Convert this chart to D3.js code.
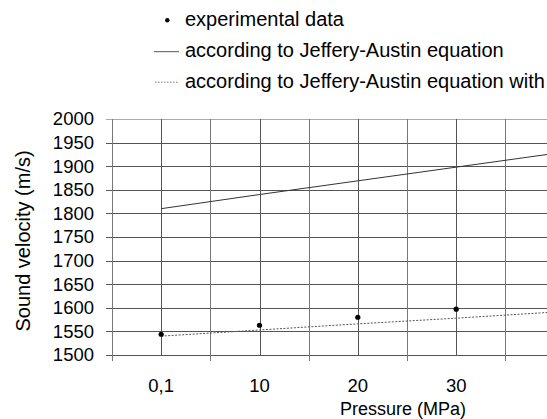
<!DOCTYPE html>
<html>
<head>
<meta charset="utf-8">
<script src="https://cdn.jsdelivr.net/npm/d3@7"></script>
<style>
  body { margin: 0; background: #fff; }
  svg { display: block; font-family: "Liberation Sans", Arial, sans-serif; }
</style>
</head>
<body>
<div id="chart"></div>
<script>
// data
var categories = ["0,1", "10", "20", "30", "40", "50"];
var tickLabels = ["0,1", "10", "20", "30"];
var experimental = [1544, 1563, 1580, 1597];
var jefferyAustin = [1810, 1840, 1869, 1898, 1927];
var jefferyAustinMod = [1540, 1553, 1566, 1578, 1591];
var yTicks = [1500, 1550, 1600, 1650, 1700, 1750, 1800, 1850, 1900, 1950, 2000];
var legendLabels = ["experimental data",
  "according to Jeffery-Austin equation",
  "according to Jeffery-Austin equation with"];

var width = 547, height = 419;
var plotLeft = 112, plotRight = 702, plotTop = 119, plotBottom = 355;
var fontSize = "18.5px";

var svg = d3.select("#chart").append("svg")
  .attr("width", width)
  .attr("height", height);

var x = d3.scaleBand().domain(categories).range([plotLeft, plotRight]).padding(0);
var y = d3.scaleLinear().domain([1500, 2000]).range([plotBottom, plotTop]);
var bw = x.bandwidth();
var cx = function(i) { return x(categories[i]) + bw / 2; };

// horizontal grid
svg.append("g").selectAll("line")
  .data(yTicks)
  .enter().append("line")
    .attr("x1", plotLeft - 6).attr("x2", plotRight)
    .attr("y1", function(d) { return Math.round(y(d)) + 0.5; })
    .attr("y2", function(d) { return Math.round(y(d)) + 0.5; })
    .attr("stroke", function(d) { return d === 2000 ? "#aaa" : "#555"; })
    .attr("stroke-width", 1);

// vertical grid: band edges (with tick below) and band centres
var edges = categories.map(function(c) { return x(c); }).concat([plotRight]);
svg.append("g").selectAll("line")
  .data(edges)
  .enter().append("line")
    .attr("x1", function(d) { return Math.round(d) + 0.5; })
    .attr("x2", function(d) { return Math.round(d) + 0.5; })
    .attr("y1", plotTop).attr("y2", plotBottom + 6)
    .attr("stroke", "#777");
svg.append("g").selectAll("line")
  .data(categories)
  .enter().append("line")
    .attr("x1", function(d, i) { return Math.round(cx(i)) + 0.5; })
    .attr("x2", function(d, i) { return Math.round(cx(i)) + 0.5; })
    .attr("y1", plotTop).attr("y2", plotBottom)
    .attr("stroke", "#555");

// y tick labels
svg.append("g").selectAll("text")
  .data(yTicks)
  .enter().append("text")
    .attr("x", 94)
    .attr("y", function(d) { return y(d); })
    .attr("dy", "0.35em")
    .attr("text-anchor", "end")
    .style("font-size", fontSize)
    .text(function(d) { return d; });

// x tick labels
svg.append("g").selectAll("text")
  .data(tickLabels)
  .enter().append("text")
    .attr("x", function(d, i) { return cx(i); })
    .attr("y", 391.5)
    .attr("text-anchor", "middle")
    .style("font-size", fontSize)
    .text(function(d) { return d; });

// axis titles
svg.append("text")
  .attr("x", (plotLeft + plotRight) / 2 - 4)
  .attr("y", 415)
  .attr("text-anchor", "middle")
  .style("font-size", "18px")
  .text("Pressure (MPa)");

svg.append("text")
  .attr("transform", "translate(30,241) rotate(-90)")
  .attr("text-anchor", "middle")
  .style("font-size", "20px")
  .text("Sound velocity (m/s)");

// lines
var line = d3.line()
  .x(function(d, i) { return cx(i); })
  .y(function(d) { return y(d); });

svg.append("path")
  .datum(jefferyAustin)
  .attr("d", line)
  .attr("fill", "none")
  .attr("stroke", "#333")
  .attr("stroke-width", 1);

svg.append("path")
  .datum(jefferyAustinMod)
  .attr("d", line)
  .attr("fill", "none")
  .attr("stroke", "#555")
  .attr("stroke-width", 1)
  .attr("stroke-dasharray", "2,1.5");

// experimental points
svg.append("g").selectAll("circle")
  .data(experimental)
  .enter().append("circle")
    .attr("cx", function(d, i) { return cx(i); })
    .attr("cy", function(d) { return y(d); })
    .attr("r", 2.6)
    .attr("fill", "#000");

// legend
var legendY = [26, 57, 87.5];
var legend = svg.append("g");
legend.append("circle")
  .attr("cx", 167.3).attr("cy", legendY[0] - 5.8)
  .attr("r", 2.2).attr("fill", "#000");
legend.append("line")
  .attr("x1", 154).attr("x2", 179)
  .attr("y1", legendY[1] - 5.3).attr("y2", legendY[1] - 5.3)
  .attr("stroke", "#555");
legend.append("line")
  .attr("x1", 155).attr("x2", 179)
  .attr("y1", legendY[2] - 5.3).attr("y2", legendY[2] - 5.3)
  .attr("stroke", "#777")
  .attr("stroke-dasharray", "1.5,1.5");
legend.selectAll("text")
  .data(legendLabels)
  .enter().append("text")
    .attr("x", 185)
    .attr("y", function(d, i) { return legendY[i]; })
    .style("font-size", "20px")
    .text(function(d) { return d; });
</script>
</body>
</html>
